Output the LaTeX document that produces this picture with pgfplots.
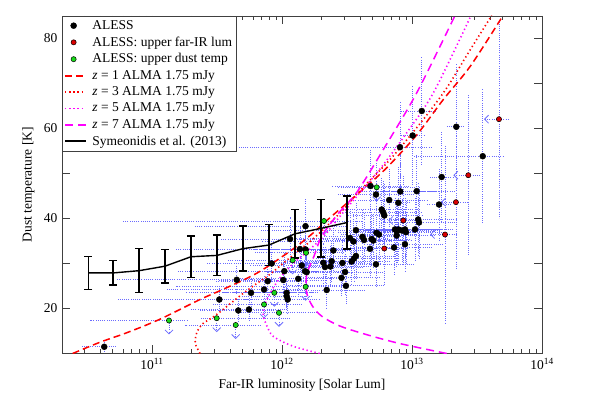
\documentclass[border=0pt]{standalone}
\usepackage{fontspec}
\setmainfont{Liberation Serif}
\usepackage{pgfplots}
\pgfplotsset{compat=1.18}
\usepackage{pgfplotstable}
\usetikzlibrary{arrows.meta}

\definecolor{errblue}{rgb}{0.42,0.42,1}
\definecolor{zred}{rgb}{1,0,0}
\definecolor{zmag}{rgb}{1,0,1}
\definecolor{ptgreen}{rgb}{0.1,0.85,0.1}
\definecolor{ptred}{rgb}{0.85,0,0}

% ALESS: log10(L_FIR), T_dust, errors (dex, K)
\pgfplotstableread{
x y exm exp ey
10.633 11.49 0.17 0.10 1.0
11.518 22.00 0.78 0.25 2.5
11.652 26.38 0.92 0.30 3.0
11.664 19.56 0.30 0.30 2.5
11.746 19.78 0.45 0.30 2.5
11.762 23.49 0.50 0.30 3.0
11.862 24.22 0.75 0.30 3.0
11.890 26.07 0.40 0.30 3.5
11.921 30.00 0.50 0.35 4.0
12.018 28.29 0.82 0.30 4.0
12.010 26.33 0.50 0.30 3.5
12.036 23.49 0.30 0.25 3.0
12.036 22.73 0.35 0.20 3.0
12.044 22.00 0.40 0.25 3.0
12.062 35.44 0.53 0.30 5.0
12.125 26.60 0.45 0.30 4.0
12.152 29.56 0.40 0.30 4.0
12.177 28.29 0.35 0.30 4.0
12.190 28.07 0.30 0.35 4.0
12.138 33.22 0.95 0.30 5.0
12.181 38.29 0.85 0.35 6.0
12.182 33.11 0.40 0.30 5.0
12.318 30.16 0.35 0.30 4.5
12.331 29.22 0.30 0.30 4.5
12.373 29.33 0.30 0.30 4.5
12.382 30.51 0.35 0.30 4.5
12.395 32.89 0.30 0.30 5.0
12.344 24.11 0.30 0.30 4.0
12.465 30.11 0.30 0.30 5.0
12.485 28.11 0.30 0.30 5.0
12.458 26.82 0.30 0.30 4.0
12.492 25.04 0.45 0.30 4.0
12.523 35.67 0.50 0.30 6.0
12.550 34.89 0.70 0.30 6.0
12.536 30.44 0.30 0.30 5.0
12.554 31.11 0.30 0.30 5.0
12.569 31.67 0.30 0.30 5.0
12.569 37.40 0.74 0.30 6.0
12.619 35.93 0.30 0.30 6.0
12.631 35.22 0.30 0.30 6.0
12.690 35.44 0.30 0.30 6.0
12.702 35.11 0.30 0.30 6.0
12.681 47.22 0.30 0.30 8.0
12.723 45.33 0.30 0.30 7.0
12.825 44.11 0.30 0.30 7.0
12.767 42.00 0.30 0.30 7.0
12.779 41.33 0.30 0.30 7.0
12.787 40.67 0.30 0.30 7.0
12.727 36.82 0.30 0.30 6.0
12.746 36.44 0.30 0.30 6.0
12.677 33.27 0.30 0.30 6.0
12.723 29.82 0.30 0.30 5.0
12.862 33.56 0.30 0.30 6.0
12.946 34.27 0.30 0.30 6.0
12.869 37.56 0.30 0.30 7.0
12.885 37.18 0.30 0.30 7.0
12.896 37.56 0.30 0.30 7.0
12.923 37.33 0.30 0.30 7.0
12.946 37.56 0.30 0.30 7.0
12.954 36.96 0.30 0.30 7.0
13.023 37.56 0.30 0.30 7.0
12.882 36.22 0.30 0.30 7.0
12.895 43.49 0.10 0.10 8.0
12.910 46.00 0.30 0.30 8.0
13.036 46.07 0.30 0.30 8.0
13.048 39.78 0.30 0.30 8.0
13.054 39.11 0.30 0.30 8.0
13.208 43.11 0.10 0.10 8.0
13.228 49.22 0.10 0.10 10.0
12.908 55.84 1.60 0.25 10.0
13.005 58.44 0.10 0.10 11.0
13.075 63.89 0.17 0.11 12.0
13.341 60.38 0.08 0.06 14.0
13.544 53.84 0.54 0.16 15.0
}\aless

% upper limits on dust temperature
\pgfplotstableread{
x y exm exp
11.131 17.33 0.61 0.15
11.498 17.84 0.13 0.56
11.644 16.33 0.39 0.20
11.862 20.89 0.40 0.30
11.941 23.49 0.40 0.30
11.977 19.04 0.30 0.30
12.082 30.71 0.50 0.30
12.185 32.38 0.40 0.30
12.182 24.82 1.00 0.30
12.323 39.44 1.55 0.30
12.728 46.93 0.30 0.30
}\upT

% upper limits on far-IR luminosity
\pgfplotstableread{
x y exm exp ey
12.787 33.33 0.10 0.10 8
12.933 39.56 0.10 0.10 10
13.254 36.44 0.10 0.10 20
13.338 43.62 0.10 0.10 15
13.433 49.62 0.10 0.10 18
13.669 62.07 0.10 0.08 22
}\upL

\pgfplotstableread{
x y e
10.51 27.9 3.7
10.70 27.9 2.7
10.90 28.4 4.9
11.10 29.4 3.7
11.30 31.5 4.6
11.50 31.8 4.5
11.70 33.3 5.0
11.90 34.1 4.6
12.10 36.6 5.4
12.30 37.8 6.4
12.50 39.1 5.9
}\symeo

\pgfplotsset{
  longline/.style={legend image code/.code={
    \draw[##1, line width=1.8pt] (0cm,0cm) -- (0.72cm,0cm);}},
}

\begin{document}
\fontsize{13.5}{16}\selectfont
\begin{tikzpicture}
\useasboundingbox (0,0) rectangle (590pt,393pt);
\begin{axis}[
  at={(62pt,39.5pt)}, anchor=south west,
  scale only axis, width=480pt, height=337.5pt,
  xmin=10.308, xmax=14, ymin=10, ymax=85,
  xtick={11,12,13,14},
  xticklabels={10\textsuperscript{11},10\textsuperscript{12},10\textsuperscript{13},10\textsuperscript{14}},
  minor xtick={10.477,10.602,10.699,10.778,10.845,10.903,10.954,
    11.301,11.477,11.602,11.699,11.778,11.845,11.903,11.954,
    12.301,12.477,12.602,12.699,12.778,12.845,12.903,12.954,
    13.301,13.477,13.602,13.699,13.778,13.845,13.903,13.954},
  ytick={20,30,40,50,60,70,80},
  yticklabels={20,,40,,60,,80},
  tick align=inside,
  major tick length=8pt, minor tick length=4.5pt,
  axis line style={black!75, line width=0.8pt},
  tick style={black!75, line width=0.8pt},
  xlabel={Far-IR luminosity [Solar Lum]},
  ylabel={Dust temperature [K]},
  ticklabel style={font=\fontsize{13.5}{16}\selectfont},
  label style={font=\fontsize{13.5}{16}\selectfont},
  legend style={at={(0,1)}, anchor=north west, draw=black!75, fill=white,
    font=\fontsize{13.5}{16}\selectfont, row sep=1.4pt, column sep=4pt,
    inner sep=2pt},
  legend cell align=left,
]

% error bars
\addplot[only marks, mark=none, forget plot,
  error bars/.cd, x dir=both, x explicit, y dir=both, y explicit,
  error mark=none,
  error bar style={errblue, line width=0.7pt, dash pattern=on 0.8pt off 1.4pt}]
  table[x=x, y=y, x error minus=exm, x error plus=exp, y error=ey] {\aless};
\addplot[only marks, mark=none, forget plot,
  error bars/.cd, x dir=both, x explicit,
  error mark=none,
  error bar style={errblue, line width=0.7pt, dash pattern=on 0.8pt off 1.4pt}]
  table[x=x, y=y, x error minus=exm, x error plus=exp] {\upT};
\addplot[only marks, mark=none, forget plot,
  error bars/.cd, x dir=both, x explicit, y dir=both, y explicit,
  error mark=none,
  error bar style={errblue, line width=0.7pt, dash pattern=on 0.8pt off 1.4pt}]
  table[x=x, y=y, x error minus=exm, x error plus=exp, y error=ey] {\upL};

% upper-limit arrows
\addplot[errblue, line width=0.7pt, dash pattern=on 0.8pt off 1.4pt, no markers, forget plot,
  quiver={u=0, v=-3.1},
  -{Straight Barb[length=4pt, width=8pt, line width=0.8pt, sep=0pt]}]
  table[x=x, y=y] {\upT};
\addplot[errblue, line width=0.7pt, dash pattern=on 0.8pt off 1.4pt, no markers, forget plot,
  quiver={u=-0.115, v=0},
  -{Straight Barb[length=4pt, width=8pt, line width=0.8pt, sep=0pt]}]
  table[x=x, y=y] {\upL};

% points
\addplot[only marks, mark=*, mark size=3pt, black] table[x=x, y=y] {\aless};
\addlegendentry{ALESS}
\addplot[only marks, mark=*, mark size=2.6pt, mark options={fill=ptred, draw=black, line width=0.5pt}]
  table[x=x, y=y] {\upL};
\addlegendentry{ALESS: upper far-IR lum}
\addplot[only marks, mark=*, mark size=2.6pt, mark options={fill=ptgreen, draw=black, line width=0.5pt}]
  table[x=x, y=y] {\upT};
\addlegendentry{ALESS: upper dust temp}

% detection limits
\addplot[zred, line width=1.5pt, dash pattern=on 7pt off 4pt, smooth, longline] coordinates {
(10.39,10.0)(10.60,12.5)(10.805,14.6)(11.06,17.6)(11.37,22.0)(11.55,24.3)
(11.81,27.9)(12.06,32.7)(12.22,36.3)(12.37,40.2)(12.62,46.4)(12.81,51.4)
(13.04,58.7)(13.24,66.4)(13.45,73.9)(13.70,85.1)};
\addlegendentry{\textit{z} = 1 ALMA 1.75 mJy}
\addplot[zred, line width=1.6pt, dash pattern=on 1.3pt off 2.8pt, smooth, longline] coordinates {
(11.37,10.0)(11.335,12.0)(11.335,13.5)(11.35,15.0)(11.39,16.6)(11.47,18.1)
(11.548,19.8)(11.625,21.6)(11.69,23.1)(11.779,25.0)(11.908,27.6)(12.02,30.3)
(12.138,33.1)(12.241,35.5)(12.446,41.2)(12.6,46.2)(12.831,53.1)(13.087,62.0)
(13.267,69.0)(13.433,76.8)(13.613,85.1)};
\addlegendentry{\textit{z} = 3 ALMA 1.75 mJy}
\addplot[zmag, line width=1.6pt, dash pattern=on 1.3pt off 2.8pt, smooth, longline] coordinates {
(12.29,10.0)(12.087,11.6)(11.933,13.8)(11.88,16.4)(11.856,18.5)(11.87,21.0)
(11.92,24.0)(11.99,27.0)(12.08,29.8)(12.2,32.8)(12.32,36.0)(12.446,40.5)
(12.575,44.9)(12.754,51.0)(12.946,58.5)(13.164,67.9)(13.446,84.6)};
\addlegendentry{\textit{z} = 5 ALMA 1.75 mJy}
\addplot[zmag, line width=1.5pt, dash pattern=on 8pt off 5pt, smooth, longline] coordinates {
(13.267,10.0)(12.908,12.2)(12.65,14.2)(12.446,16.1)(12.31,18.2)(12.235,20.5)
(12.19,23.5)(12.19,27.5)(12.246,31.6)(12.305,36.0)(12.43,41.0)(12.575,45.8)
(12.779,55.3)(13.036,67.9)(13.331,85.1)};
\addlegendentry{\textit{z} = 7 ALMA 1.75 mJy}

% Symeonidis et al. (2013)
\addplot[black, line width=1.4pt, mark=none, longline,
  error bars/.cd, y dir=both, y explicit,
  error mark options={rotate=90, black, mark size=4pt, line width=1.4pt},
  error bar style={black, line width=1.4pt}]
  table[x=x, y=y, y error=e] {\symeo};
\addlegendentry{Symeonidis et al. (2013)}

\end{axis}
\end{tikzpicture}
\end{document}
